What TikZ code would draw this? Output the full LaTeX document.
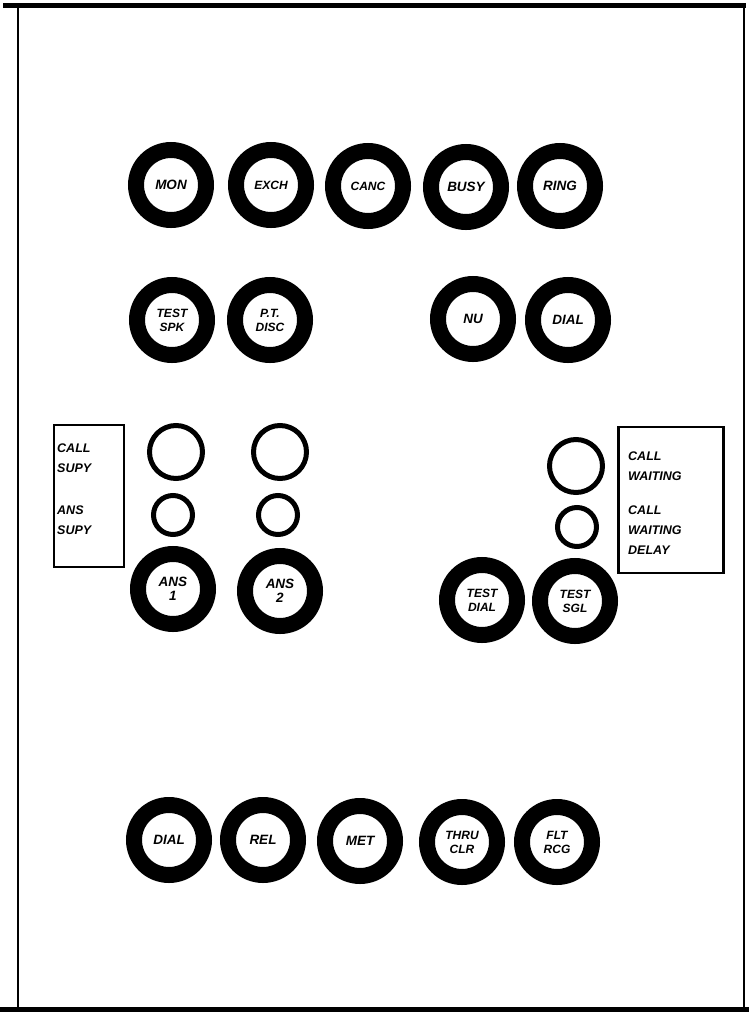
\documentclass[tikz,border=0pt]{standalone}
\usepackage{fontspec}
\setmainfont{Liberation Sans}
\begin{document}
\begin{tikzpicture}[x=1pt,y=-1pt,
 btn/.style={circle,draw=black,fill=white,line width=16pt,minimum size=70pt,inner sep=0pt,
   font=\bfseries\itshape\fontsize{13.5}{14.5}\selectfont,align=center},
 small/.style={font=\bfseries\itshape\fontsize{12}{14}\selectfont},
 lamp/.style={circle,draw=black,line width=5pt,minimum size=53pt,inner sep=0pt},
 slamp/.style={lamp,minimum size=39pt},
 lbl/.style={font=\bfseries\itshape\fontsize{12.5}{20}\selectfont,align=left,inner sep=0pt,anchor=west},
 legend/.style={draw=black,line width=2.5pt,inner sep=0pt}]
\useasboundingbox (0,0) rectangle (749,1018);
% frame
\draw[line width=5pt] (3,5) -- (746,5);
\draw[line width=5pt] (0,1009) -- (749,1009);
\draw[line width=2.5pt] (18,5) -- (18,1009);
\draw[line width=2pt] (744,5) -- (744,1009);
% row 1
\node[btn] (mon) at (171,185) {MON};
\node[btn,small] (exch) at (271,185) {EXCH};
\node[btn,small] (canc) at (368,186) {CANC};
\node[btn] (busy) at (466,187) {BUSY};
\node[btn] (ring) at (560,186) {RING};
% row 2
\node[btn,small] (testspk) at (172,320) {TEST\\SPK};
\node[btn,small] (ptdisc) at (270,320) {P.T.\\DISC};
\node[btn] (nu) at (473,319) {NU};
\node[btn] (dial1) at (568,320) {DIAL};
% left lamps
\node[legend,minimum width=70pt,minimum height=142pt] (lbox) at (89,496) {};
\node[lbl] (callsupy) at (57,458) {CALL\\SUPY};
\node[lbl] (anssupy) at (57,520) {ANS\\SUPY};
\node[lamp] (l1a) at (176,452) {};
\node[slamp] (l1b) at (173,515) {};
\node[btn] (ans1) at (173,589) {ANS\\1};
\node[lamp] (l2a) at (280,452) {};
\node[slamp] (l2b) at (278,515) {};
\node[btn] (ans2) at (280,591) {ANS\\2};
% right lamps
\node[legend,minimum width=105pt,minimum height=146pt] (rbox) at (671,500) {};
\node[lbl] (cw) at (628,466) {CALL\\WAITING};
\node[lbl] (cwd) at (628,530) {CALL\\WAITING\\DELAY};
\node[lamp] (r1a) at (576,466) {};
\node[slamp] (r1b) at (577,527) {};
\node[btn,small] (testdial) at (482,600) {TEST\\DIAL};
\node[btn,small] (testsgl) at (575,601) {TEST\\SGL};
% bottom row
\node[btn] (dial2) at (169,840) {DIAL};
\node[btn] (rel) at (263,840) {REL};
\node[btn] (met) at (360,841) {MET};
\node[btn,small] (thru) at (462,842) {THRU\\CLR};
\node[btn,small] (flt) at (557,842) {FLT\\RCG};
\end{tikzpicture}
\end{document}
